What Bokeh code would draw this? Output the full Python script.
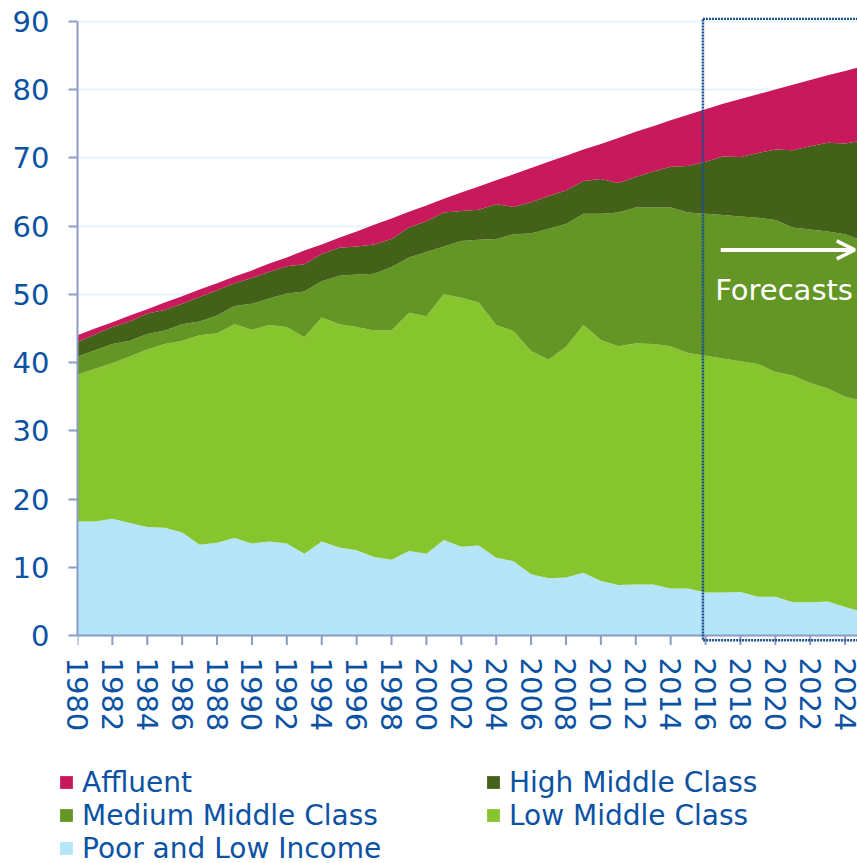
from bokeh.plotting import figure
from bokeh.models import (Range1d, FixedTicker, Legend, LegendItem, BoxAnnotation,
                          Arrow, OpenHead, Label, Span, ColumnDataSource)
from bokeh.embed import file_html
from bokeh.resources import INLINE

years = list(range(1980, 2026))

poor = [16.7, 16.7, 17.1, 16.5, 15.9, 15.8, 15.1, 13.3, 13.6, 14.3,
        13.5, 13.8, 13.5, 12.0, 13.8, 12.9, 12.5, 11.5, 11.1, 12.4,
        12.0, 14.0, 13.0, 13.2, 11.4, 10.9, 9.0, 8.4, 8.5, 9.2,
        8.0, 7.4, 7.5, 7.5, 6.9, 6.9, 6.3, 6.3, 6.4, 5.7,
        5.7, 4.9, 4.9, 5.0, 4.2, 3.5]
low = [21.5, 22.4, 22.8, 24.4, 26.0, 26.9, 28.1, 30.7, 30.7, 31.3,
       31.3, 31.7, 31.7, 31.7, 32.8, 32.7, 32.7, 33.2, 33.6, 34.9,
       34.8, 36.0, 36.5, 35.6, 34.1, 33.7, 32.7, 32.0, 33.8, 36.3,
       35.3, 35.0, 35.3, 35.2, 35.5, 34.5, 34.7, 34.3, 33.8, 34.1,
       32.9, 33.2, 32.1, 31.2, 30.8, 30.9]
medium = [2.7, 2.7, 2.8, 2.3, 2.3, 2.0, 2.4, 2.0, 2.6, 2.7,
          3.8, 3.9, 4.9, 6.7, 5.3, 7.1, 7.7, 8.3, 9.3, 8.1,
          9.4, 7.0, 8.3, 9.2, 12.6, 14.2, 17.2, 19.2, 18.0, 16.3,
          18.5, 19.6, 19.9, 20.0, 20.3, 20.6, 20.8, 21.0, 21.2, 21.4,
          22.3, 21.7, 22.5, 23.0, 23.8, 23.4]
high = [2.1, 2.3, 2.5, 2.8, 3.0, 3.0, 3.0, 3.6, 3.7, 3.3,
        3.8, 3.9, 4.0, 4.0, 4.0, 4.1, 4.1, 4.3, 4.1, 4.4,
        4.5, 5.0, 4.4, 4.4, 5.1, 4.0, 4.6, 4.8, 4.9, 4.8,
        5.1, 4.3, 4.5, 5.3, 6.0, 6.8, 7.6, 8.6, 8.7, 9.5,
        10.3, 11.3, 12.2, 13.0, 13.3, 14.7]
affluent = [1.0, 0.9, 0.7, 0.9, 0.6, 1.1, 1.1, 1.1, 1.0, 1.0,
            1.1, 1.2, 1.3, 2.0, 1.4, 1.5, 2.2, 2.9, 3.0, 2.3,
            2.3, 2.0, 2.7, 3.4, 3.5, 4.8, 5.0, 5.0, 5.1, 4.6,
            5.1, 6.6, 6.6, 6.6, 6.8, 7.5, 7.7, 7.7, 8.5, 8.6,
            8.8, 9.6, 9.7, 9.9, 10.6, 10.9]

stack_keys = ["poor", "low", "medium", "high", "affluent"]
series_names = ["Poor and Low Income", "Low Middle Class", "Medium Middle Class",
                "High Middle Class", "Affluent"]
colors = ["#B5E5F8", "#87C52F", "#649625", "#436118", "#C8195D"]
legend_order = ["Affluent", "High Middle Class", "Medium Middle Class",
                "Low Middle Class", "Poor and Low Income"]
x_ticks = list(range(1980, 2025, 2))
y_ticks = list(range(0, 91, 10))
forecast_start = 2015.85
forecast_label = "Forecasts"

src = ColumnDataSource(dict(year=years, poor=poor, low=low, medium=medium,
                            high=high, affluent=affluent))

BLUE = "#0B52A3"
AXIS = "#8C9BC6"
FONT = "DejaVu Sans"
PX_PER_UNIT = 629 / (90.55 + 1.6)
TICK_LEN = 9.5 / PX_PER_UNIT

p = figure(frame_width=780, frame_height=629,
           x_range=Range1d(1980, 2024.71), y_range=Range1d(-1.6, 90.55),
           output_backend="svg", toolbar_location=None,
           min_border_left=77, min_border_right=0, min_border_top=17,
           min_border_bottom=94)
p.outline_line_color = None
p.background_fill_color = "white"
p.border_fill_color = "white"

p.xgrid.grid_line_color = None
p.ygrid.grid_line_color = "#E4F3FC"
p.ygrid.grid_line_width = 2
p.ygrid.level = "underlay"

renderers = p.varea_stack(stackers=stack_keys, x="year", color=colors, source=src)

# y axis
p.yaxis.ticker = FixedTicker(ticks=y_ticks)
p.yaxis.bounds = (0, 90)
p.yaxis.axis_line_color = AXIS
p.yaxis.axis_line_width = 2
p.yaxis.major_tick_line_color = AXIS
p.yaxis.major_tick_line_width = 2
p.yaxis.major_tick_out = 9
p.yaxis.major_tick_in = 0
p.yaxis.major_label_standoff = 19

# x axis: labels from the axis, line and ticks drawn at value 0
p.xaxis.ticker = FixedTicker(ticks=x_ticks)
p.xaxis.major_label_orientation = "vertical"
p.xaxis.axis_line_color = None
p.xaxis.major_tick_line_color = None
p.xaxis.major_tick_out = 0
p.xaxis.major_tick_in = 0
p.xaxis.major_label_standoff = 11

for ax in (p.xaxis, p.yaxis):
    ax.minor_tick_line_color = None
    ax.major_label_text_color = BLUE
    ax.major_label_text_font = FONT
    ax.major_label_text_font_size = "29px"

p.segment(x0=x_ticks, y0=[0] * len(x_ticks), x1=x_ticks,
          y1=[-TICK_LEN] * len(x_ticks), line_color=AXIS, line_width=2)
p.add_layout(Span(location=0, dimension="width", line_color=AXIS, line_width=2))

# forecast box
box = BoxAnnotation(left=forecast_start, right=2030, top=90.36, bottom=-0.69,
                    fill_alpha=0, fill_color=None, line_color="#1B4E8F",
                    line_alpha=1.0, line_width=2.5, line_dash="2 1")
p.add_layout(box)

arrow = Arrow(end=OpenHead(size=18, line_color="white", line_width=3.5),
              x_start=2016.87, x_end=2024.55, y_start=56.5, y_end=56.5,
              line_color="white", line_width=4)
p.add_layout(arrow)

lab = Label(x=2016.55, y=50.7, text=forecast_label, text_color="white",
            text_font=FONT, text_font_size="29px",
            text_baseline="alphabetic")
p.add_layout(lab)

# legend panel (second root below the chart)
p2 = figure(width=857, height=123, x_range=Range1d(1980, 2024.71),
            y_range=Range1d(0, 1),
            output_backend="svg", toolbar_location=None,
            x_axis_location=None, y_axis_location=None, min_border=0)
p2.outline_line_color = None
p2.grid.visible = False
p2.border_fill_color = "white"
p2.background_fill_color = "white"

proxies = p2.varea_stack(stackers=stack_keys, x="year", color=colors, source=src,
                         visible=False)
name_to_proxy = dict(zip(series_names, proxies))

items = [LegendItem(label=n, renderers=[name_to_proxy[n]]) for n in legend_order]
legend = Legend(items=items, orientation="horizontal", ncols=2,
                location=(58, -1.5), padding=0, spacing=0, margin=0,
                glyph_width=16, glyph_height=16, label_standoff=8,
                label_width=403, label_height=33,
                label_text_font=FONT, label_text_font_size="28px",
                label_text_color=BLUE, border_line_color=None,
                background_fill_alpha=0, inactive_fill_alpha=0)
p2.add_layout(legend)

open("out.html", "w").write(file_html([p, p2], INLINE))
